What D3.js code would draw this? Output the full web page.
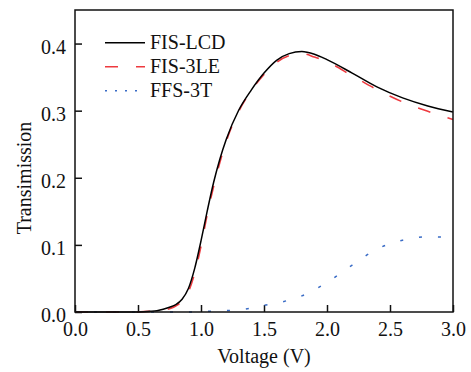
<!DOCTYPE html>
<html>
<head>
<meta charset="utf-8">
<script src="https://cdn.jsdelivr.net/npm/d3@7"></script>
<style>
  body { margin: 0; background: #fff; }
  text { font-family: "Liberation Serif", "Times New Roman", serif; }
</style>
</head>
<body>
<div id="chart"></div>
<script>
// voltage grid (V) and transmission values
const voltage = [0, 0.2, 0.4, 0.5, 0.6, 0.65, 0.7, 0.75, 0.8, 0.85, 0.9, 0.95, 1.0, 1.05, 1.1, 1.15, 1.2, 1.3, 1.4, 1.5, 1.6, 1.7, 1.8, 1.9, 2.0, 2.2, 2.4, 2.6, 2.8, 3.0];
const fisLcd = [0, 0, 0, 0, 0.001, 0.002, 0.004, 0.007, 0.011, 0.019, 0.035, 0.065, 0.106, 0.151, 0.193, 0.228, 0.257, 0.301, 0.331, 0.356, 0.375, 0.385, 0.388, 0.384, 0.376, 0.356, 0.335, 0.319, 0.307, 0.298];
const fis3le = [0, 0, 0, 0, 0.001, 0.001, 0.003, 0.005, 0.009, 0.016, 0.030, 0.058, 0.098, 0.146, 0.187, 0.223, 0.254, 0.299, 0.330, 0.354, 0.372, 0.382, 0.385, 0.380, 0.373, 0.352, 0.331, 0.313, 0.299, 0.287];
const ffs3t = [0, 0, 0, 0, 0, 0, 0, 0, 0, 0, 0, 0, 0.0005, 0.001, 0.001, 0.0015, 0.002, 0.003, 0.006, 0.010, 0.013, 0.018, 0.024, 0.033, 0.044, 0.070, 0.094, 0.107, 0.112, 0.111];

const xTicks = [0, 0.5, 1.0, 1.5, 2.0, 2.5, 3.0];
const yTicks = [0, 0.1, 0.2, 0.3, 0.4];
const seriesNames = ["FIS-LCD", "FIS-3LE", "FFS-3T"];

const width = 471;
const height = 372;
const margin = {top: 10, right: 18, bottom: 60, left: 75};

const x = d3.scaleLinear()
  .domain([0, 3])
  .range([margin.left, width - margin.right]);

const y = d3.scaleLinear()
  .domain([0, 0.45])
  .range([height - margin.bottom, margin.top]);

const svg = d3.select('#chart').append('svg')
  .attr('width', width)
  .attr('height', height);

const xAxis = g => g
  .attr('transform', `translate(0,${height - margin.bottom})`)
  .call(d3.axisBottom(x).tickValues(xTicks).tickFormat(d3.format('.1f'))
    .tickSizeInner(-7).tickSizeOuter(0).tickPadding(10))
  .call(g => g.select('.domain').remove())
  .call(g => g.selectAll('line').attr('stroke', '#111').attr('stroke-width', 1.5))
  .call(g => g.selectAll('text').attr('font-size', 20).attr('fill', '#111')
    .attr('font-family', '"Liberation Serif", "Times New Roman", serif'));

const yAxis = g => g
  .attr('transform', `translate(${margin.left},0)`)
  .call(d3.axisLeft(y).tickValues(yTicks).tickFormat(d3.format('.1f'))
    .tickSizeInner(-7).tickSizeOuter(0).tickPadding(9))
  .call(g => g.select('.domain').remove())
  .call(g => g.selectAll('line').attr('stroke', '#111').attr('stroke-width', 1.5))
  .call(g => g.selectAll('text').attr('font-size', 20).attr('fill', '#111').attr('dy', '0.48em')
    .attr('font-family', '"Liberation Serif", "Times New Roman", serif'));

svg.append('g').call(xAxis);
svg.append('g').call(yAxis);

const line = vals => d3.line()
  .x((d, i) => x(voltage[i]))
  .y(d => y(d))
  .curve(d3.curveMonotoneX)(vals);

svg.append('path')
  .attr('d', line(ffs3t))
  .attr('fill', 'none')
  .attr('stroke', '#3a6cc6')
  .attr('stroke-width', 1.5)
  .attr('stroke-dasharray', '3,16');

svg.append('path')
  .attr('d', line(fis3le))
  .attr('fill', 'none')
  .attr('stroke', '#ee3a3f')
  .attr('stroke-width', 1.6)
  .attr('stroke-dasharray', '13,18');

svg.append('path')
  .attr('d', line(fisLcd))
  .attr('fill', 'none')
  .attr('stroke', '#000')
  .attr('stroke-width', 1.5);

// frame
svg.append('rect')
  .attr('x', margin.left)
  .attr('y', margin.top)
  .attr('width', width - margin.left - margin.right)
  .attr('height', height - margin.top - margin.bottom)
  .attr('fill', 'none')
  .attr('stroke', '#111')
  .attr('stroke-width', 1.5);

// axis titles
svg.append('text')
  .attr('x', (margin.left + width - margin.right) / 2)
  .attr('y', 363)
  .attr('text-anchor', 'middle')
  .attr('font-size', 20)
  .attr('fill', '#111')
  .text('Voltage (V)');

svg.append('text')
  .attr('transform', 'translate(31,178) rotate(-90)')
  .attr('text-anchor', 'middle')
  .attr('font-size', 20)
  .attr('fill', '#111')
  .text('Transimission');

// legend
const legendStyles = [
  {color: '#000', dash: null},
  {color: '#ee3a3f', dash: '13,18'},
  {color: '#3a6cc6', dash: '2,8'}
];
const legend = svg.append('g');
seriesNames.forEach((name, i) => {
  const ly = 42.7 + i * 24;
  legend.append('line')
    .attr('x1', 105).attr('x2', 145)
    .attr('y1', ly).attr('y2', ly)
    .attr('stroke', legendStyles[i].color)
    .attr('stroke-width', 1.5)
    .attr('stroke-dasharray', legendStyles[i].dash);
  legend.append('text')
    .attr('x', 150)
    .attr('y', ly + 6)
    .attr('font-size', 20)
    .attr('fill', '#111')
    .text(name);
});
</script>
</body>
</html>
